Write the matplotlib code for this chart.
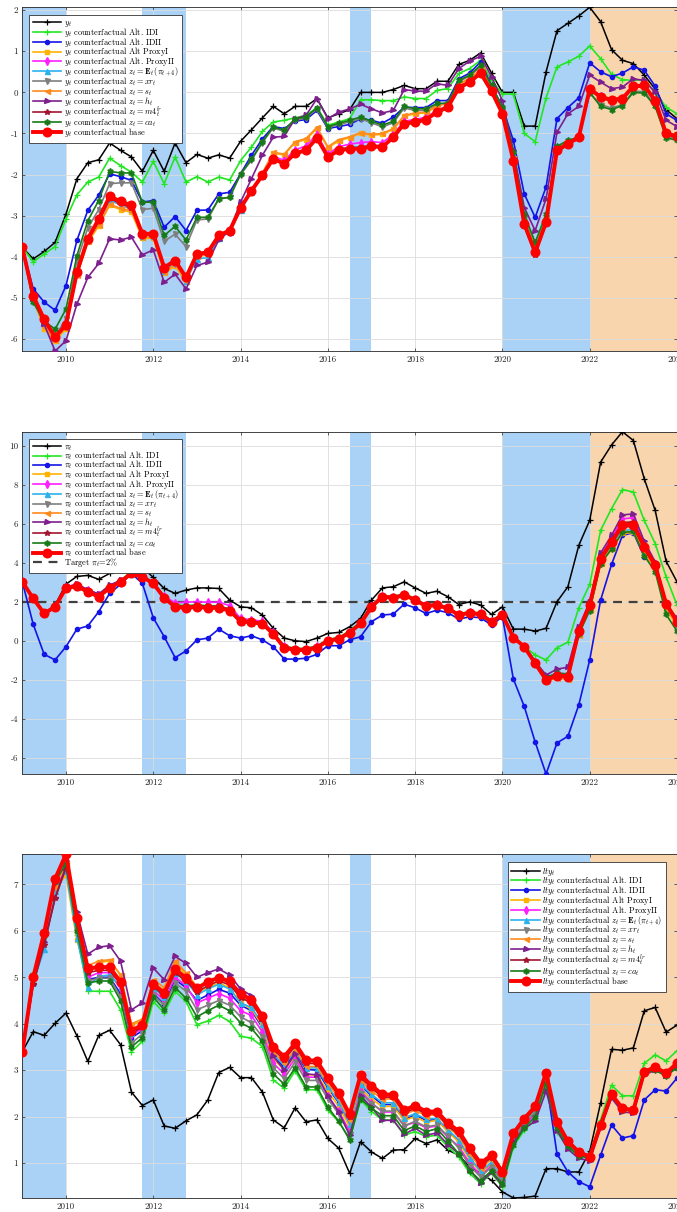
import numpy as np
import matplotlib
matplotlib.use("Agg")
import matplotlib.pyplot as plt

plt.rcParams['font.family'] = ['cmr10', 'DejaVu Serif']
plt.rcParams['mathtext.fontset'] = 'cm'
plt.rcParams['axes.unicode_minus'] = False
plt.rcParams['axes.formatter.use_mathtext'] = False

# quarterly dates 2009Q1 .. 2024Q1
quarters = np.arange(2009.0, 2024.001, 0.25)

# shaded periods
blue_spans = [(2009.0, 2010.0), (2011.75, 2012.75), (2016.5, 2017.0), (2020.0, 2022.0)]
orange_span = (2022.0, 2024.0)
target_rate = 2.0

# ---------------- output gap y_t ----------------
y_actual = [-3.77, -4.05, -3.87, -3.65, -2.96, -2.10, -1.71, -1.64, -1.23, -1.41,
            -1.57, -1.92, -1.41, -1.92, -1.23, -1.71, -1.51, -1.60, -1.52, -1.60,
            -1.19, -0.91, -0.62, -0.34, -0.52, -0.34, -0.34, -0.15, -0.62, -0.52,
            -0.42, 0.00, 0.00, 0.00, 0.07, 0.17, 0.09, 0.09, 0.27, 0.27,
            0.68, 0.78, 0.96, 0.47, 0.00, 0.00, -0.82, -0.82, 0.50, 1.50,
            1.68, 1.86, 2.07, 1.72, 1.04, 0.78, 0.70, 0.42, 0.08, -0.42,
            -0.64]
y_alt_idi = [-3.77, -4.12, -3.93, -3.75, -3.08, -2.49, -2.18, -2.06, -1.60, -1.78,
             -1.94, -2.18, -1.68, -2.22, -1.57, -2.18, -2.05, -2.18, -2.06, -2.13,
             -1.66, -1.33, -0.95, -0.72, -0.68, -0.62, -0.56, -0.37, -0.80, -0.72,
             -0.64, -0.18, -0.18, -0.20, -0.20, -0.11, -0.15, -0.15, 0.05, 0.09,
             0.46, 0.58, 0.78, 0.29, -0.04, -0.04, -1.00, -1.20, -0.13, 0.62,
             0.74, 0.88, 1.13, 0.82, 0.44, 0.31, 0.29, 0.31, 0.00, -0.36,
             -0.52]
y_alt_idii = [-3.77, -4.78, -5.10, -5.30, -4.70, -3.60, -2.87, -2.50, -1.98, -2.05,
              -2.14, -2.67, -2.63, -3.28, -3.02, -3.36, -2.87, -2.86, -2.47, -2.43,
              -1.98, -1.53, -1.13, -0.83, -0.88, -0.70, -0.66, -0.44, -0.88, -0.83,
              -0.78, -0.64, -0.68, -0.75, -0.60, -0.36, -0.37, -0.37, -0.20, -0.20,
              0.33, 0.47, 0.74, 0.17, -0.36, -1.17, -2.47, -3.04, -2.30, -0.64,
              -0.37, -0.13, 0.72, 0.50, 0.38, 0.47, 0.62, 0.54, 0.15, -0.52,
              -0.68]
y_proxy1 = [-3.77, -5.05, -5.75, -6.05, -5.75, -4.45, -3.65, -3.25, -2.75, -2.85,
            -2.92, -3.55, -3.55, -4.40, -4.22, -4.62, -4.00, -3.95, -3.50, -3.38,
            -2.82, -2.38, -1.98, -1.48, -1.52, -1.22, -1.15, -0.88, -1.35, -1.18,
            -1.10, -1.00, -1.04, -1.02, -0.90, -0.58, -0.52, -0.50, -0.34, -0.26,
            0.20, 0.33, 0.55, 0.08, -0.48, -1.60, -3.10, -3.75, -3.05, -1.38,
            -1.22, -1.05, 0.12, -0.12, -0.20, -0.12, 0.15, 0.18, -0.18, -0.98,
            -1.05]
y_proxy2 = [-3.77, -4.98, -5.60, -5.98, -5.68, -4.42, -3.60, -3.15, -2.62, -2.72,
            -2.82, -3.48, -3.48, -4.32, -4.15, -4.55, -3.98, -3.92, -3.50, -3.40,
            -2.84, -2.40, -2.02, -1.56, -1.65, -1.40, -1.30, -1.02, -1.50, -1.32,
            -1.26, -1.22, -1.20, -1.22, -1.02, -0.70, -0.66, -0.60, -0.44, -0.32,
            0.14, 0.28, 0.50, 0.05, -0.50, -1.62, -3.15, -3.82, -3.12, -1.40,
            -1.24, -1.08, 0.10, -0.10, -0.18, -0.14, 0.16, 0.18, -0.19, -0.99,
            -1.06]
y_expect = [-3.77, -4.97, -5.58, -5.94, -5.64, -4.40, -3.58, -3.12, -2.62, -2.74,
            -2.84, -3.50, -3.50, -4.34, -4.16, -4.58, -4.05, -4.02, -3.55, -3.40,
            -2.86, -2.42, -2.04, -1.62, -1.72, -1.46, -1.38, -1.08, -1.55, -1.38,
            -1.33, -1.32, -1.28, -1.30, -1.06, -0.74, -0.70, -0.64, -0.46, -0.34,
            0.12, 0.26, 0.48, 0.04, -0.51, -1.64, -3.18, -3.86, -3.14, -1.40,
            -1.24, -1.08, 0.10, -0.10, -0.17, -0.14, 0.16, 0.18, -0.19, -1.00,
            -1.06]
y_xr = [-3.77, -5.00, -5.60, -5.95, -5.50, -4.10, -3.30, -2.85, -2.22, -2.20,
        -2.20, -2.85, -2.82, -3.62, -3.45, -3.75, -3.10, -3.08, -2.60, -2.55,
        -2.00, -1.65, -1.22, -0.86, -0.95, -0.68, -0.62, -0.40, -0.86, -0.78,
        -0.72, -0.64, -0.74, -0.84, -0.74, -0.38, -0.44, -0.44, -0.30, -0.28,
        0.26, 0.40, 0.62, 0.14, -0.40, -1.50, -3.05, -3.75, -3.05, -1.35,
        -1.20, -1.12, -0.02, -0.30, -0.38, -0.30, 0.03, 0.02, -0.30, -1.08,
        -1.13]
y_s = [-3.77, -5.02, -5.70, -6.02, -5.72, -4.43, -3.62, -3.22, -2.72, -2.82,
       -2.88, -3.52, -3.52, -4.36, -4.18, -4.58, -3.98, -3.92, -3.48, -3.36,
       -2.80, -2.36, -1.96, -1.46, -1.50, -1.20, -1.12, -0.85, -1.32, -1.15,
       -1.08, -0.98, -1.02, -1.00, -0.88, -0.56, -0.50, -0.48, -0.32, -0.25,
       0.21, 0.34, 0.56, 0.09, -0.47, -1.60, -3.12, -3.78, -3.08, -1.38,
       -1.22, -1.05, 0.13, -0.11, -0.19, -0.12, 0.16, 0.18, -0.18, -0.98,
       -1.05]
y_h = [-3.77, -5.03, -5.64, -6.29, -6.04, -5.15, -4.50, -4.16, -3.56, -3.59,
       -3.52, -3.95, -3.83, -4.62, -4.42, -4.78, -4.21, -4.13, -3.59, -3.36,
       -2.67, -2.10, -1.53, -1.09, -1.07, -0.64, -0.56, -0.15, -0.64, -0.48,
       -0.40, -0.29, -0.40, -0.50, -0.44, 0.07, 0.03, 0.03, 0.21, 0.17,
       0.58, 0.76, 0.88, 0.38, -0.20, -1.41, -2.80, -3.36, -2.59, -0.97,
       -0.52, -0.34, 0.42, 0.25, 0.09, 0.13, 0.33, 0.29, 0.00, -0.68,
       -0.83]
y_m4 = [-3.77, -4.97, -5.58, -5.95, -5.65, -4.42, -3.60, -3.12, -2.58, -2.70,
        -2.80, -3.46, -3.46, -4.28, -4.12, -4.52, -3.95, -3.90, -3.50, -3.38,
        -2.83, -2.40, -2.02, -1.62, -1.75, -1.50, -1.42, -1.12, -1.58, -1.43,
        -1.38, -1.38, -1.33, -1.34, -1.10, -0.78, -0.74, -0.68, -0.50, -0.38,
        0.09, 0.23, 0.45, 0.01, -0.54, -1.70, -3.25, -3.95, -3.20, -1.45,
        -1.28, -1.12, 0.06, -0.14, -0.21, -0.18, 0.12, 0.14, -0.23, -1.03,
        -1.10]
y_ca = [-3.77, -5.11, -5.56, -5.76, -5.27, -3.97, -3.12, -2.63, -1.92, -1.96,
        -1.96, -2.67, -2.67, -3.48, -3.26, -3.59, -3.04, -3.04, -2.59, -2.55,
        -1.98, -1.63, -1.20, -0.84, -0.92, -0.64, -0.60, -0.37, -0.83, -0.75,
        -0.68, -0.60, -0.70, -0.80, -0.70, -0.34, -0.40, -0.40, -0.27, -0.26,
        0.29, 0.42, 0.66, 0.17, -0.36, -1.45, -2.96, -3.65, -2.96, -1.31,
        -1.17, -1.09, 0.00, -0.34, -0.42, -0.32, 0.00, -0.02, -0.34, -1.10,
        -1.17]
y_base = [-3.77, -4.95, -5.52, -5.95, -5.65, -4.38, -3.56, -3.08, -2.53, -2.65,
          -2.75, -3.44, -3.44, -4.26, -4.09, -4.50, -3.93, -3.89, -3.48, -3.36,
          -2.81, -2.39, -2.02, -1.61, -1.74, -1.48, -1.41, -1.11, -1.57, -1.41,
          -1.37, -1.37, -1.31, -1.33, -1.09, -0.76, -0.72, -0.66, -0.48, -0.36,
          0.11, 0.25, 0.47, 0.03, -0.52, -1.66, -3.20, -3.89, -3.16, -1.41,
          -1.25, -1.09, 0.09, -0.11, -0.18, -0.15, 0.15, 0.17, -0.20, -1.00,
          -1.07]

# ---------------- inflation pi_t ----------------
p_actual = [3.02, 2.17, 1.40, 1.83, 2.90, 3.30, 3.35, 3.15, 3.45, 3.75,
            4.05, 3.75, 3.25, 2.68, 2.43, 2.60, 2.71, 2.71, 2.68, 2.09,
            1.74, 1.69, 1.32, 0.64, 0.14, 0.00, -0.04, 0.14, 0.38, 0.43,
            0.72, 1.15, 2.09, 2.71, 2.77, 3.02, 2.71, 2.43, 2.54, 2.26,
            1.86, 2.00, 1.83, 1.35, 1.74, 0.60, 0.60, 0.50, 0.64, 2.00,
            2.77, 4.89, 6.17, 9.15, 10.03, 10.71, 10.26, 8.30, 6.68, 4.08,
            3.02]
p_alt_idi = [3.02, 2.20, 1.45, 1.80, 2.75, 2.85, 2.60, 2.35, 2.80, 3.10,
             3.55, 3.35, 3.00, 2.30, 1.85, 1.80, 1.85, 1.80, 1.80, 1.62,
             1.08, 1.02, 0.95, 0.45, -0.25, -0.38, -0.38, -0.25, 0.08, 0.18,
             0.52, 0.98, 1.82, 2.32, 2.28, 2.42, 2.16, 1.85, 1.90, 1.72,
             1.38, 1.50, 1.42, 1.05, 1.38, 0.17, -0.29, -0.72, -0.98, -0.35,
             -0.07, 1.69, 2.89, 5.66, 6.77, 7.75, 7.62, 6.17, 4.98, 3.28,
             1.83]
p_alt_idii = [3.02, 0.84, -0.69, -0.98, -0.30, 0.60, 0.76, 1.49, 2.43, 2.89,
              3.45, 2.94, 1.18, 0.21, -0.86, -0.52, 0.05, 0.14, 0.60, 0.26,
              0.14, 0.26, 0.05, -0.30, -0.93, -0.94, -0.89, -0.69, -0.25, -0.25,
              0.05, 0.21, 0.98, 1.32, 1.37, 1.88, 1.69, 1.40, 1.57, 1.44,
              1.11, 1.23, 1.18, 0.81, 1.23, -1.95, -3.36, -5.18, -6.82, -5.23,
              -4.89, -3.28, -0.98, 2.09, 3.91, 5.40, 5.54, 4.30, 3.87, 1.74,
              0.89]
p_proxy1 = [3.02, 2.15, 1.38, 1.72, 2.68, 2.76, 2.48, 2.22, 2.66, 2.98,
            3.42, 3.25, 2.90, 2.16, 1.70, 1.66, 1.70, 1.66, 1.66, 1.52,
            0.96, 0.91, 0.84, 0.32, -0.38, -0.50, -0.50, -0.38, -0.03, 0.07,
            0.40, 0.86, 1.70, 2.22, 2.16, 2.30, 2.05, 1.75, 1.80, 1.63,
            1.30, 1.42, 1.33, 0.96, 1.30, 0.15, -0.32, -1.20, -2.05, -1.85,
            -1.95, 0.30, 1.60, 3.95, 4.70, 5.50, 5.55, 4.50, 3.65, 1.65,
            0.75]
p_proxy2 = [3.02, 2.18, 1.42, 1.76, 2.78, 2.88, 2.62, 2.35, 2.78, 3.08,
            3.48, 3.30, 2.98, 2.28, 1.95, 1.98, 2.00, 1.98, 1.98, 1.80,
            1.15, 1.08, 1.00, 0.45, -0.28, -0.40, -0.40, -0.28, 0.05, 0.15,
            0.46, 0.92, 1.80, 2.30, 2.25, 2.40, 2.14, 1.84, 1.88, 1.70,
            1.36, 1.48, 1.40, 1.02, 1.35, 0.20, -0.28, -1.10, -1.90, -1.65,
            -1.70, 0.60, 1.90, 4.35, 5.25, 6.25, 6.30, 4.95, 3.95, 1.85,
            1.05]
p_expect = [3.02, 2.16, 1.39, 1.73, 2.70, 2.78, 2.50, 2.25, 2.69, 3.00,
            3.44, 3.27, 2.92, 2.18, 1.72, 1.68, 1.72, 1.68, 1.68, 1.54,
            0.98, 0.93, 0.86, 0.33, -0.37, -0.49, -0.49, -0.37, -0.02, 0.08,
            0.41, 0.88, 1.72, 2.24, 2.18, 2.32, 2.07, 1.76, 1.81, 1.64,
            1.31, 1.43, 1.34, 0.97, 1.31, 0.16, -0.31, -1.18, -2.02, -1.82,
            -1.90, 0.35, 1.70, 4.05, 4.85, 5.65, 5.70, 4.60, 3.75, 1.75,
            0.85]
p_xr = [3.02, 2.17, 1.40, 1.75, 2.72, 2.80, 2.52, 2.28, 2.72, 3.02,
        3.46, 3.28, 2.94, 2.22, 1.78, 1.74, 1.78, 1.74, 1.74, 1.58,
        1.02, 0.97, 0.90, 0.37, -0.33, -0.45, -0.45, -0.33, 0.02, 0.12,
        0.44, 0.90, 1.75, 2.28, 2.22, 2.36, 2.10, 1.80, 1.84, 1.67,
        1.33, 1.45, 1.36, 0.99, 1.33, 0.18, -0.30, -1.12, -1.95, -1.72,
        -1.78, 0.45, 1.75, 4.15, 4.95, 5.80, 5.85, 4.70, 3.80, 1.80,
        0.90]
p_s = [3.02, 2.16, 1.39, 1.73, 2.69, 2.77, 2.49, 2.24, 2.68, 2.99,
       3.43, 3.26, 2.91, 2.17, 1.71, 1.67, 1.71, 1.67, 1.67, 1.53,
       0.97, 0.92, 0.85, 0.32, -0.38, -0.50, -0.50, -0.38, -0.03, 0.07,
       0.40, 0.87, 1.71, 2.23, 2.17, 2.31, 2.06, 1.76, 1.81, 1.64,
       1.31, 1.43, 1.34, 0.97, 1.31, 0.16, -0.32, -1.22, -2.08, -1.90,
       -1.98, 0.32, 1.62, 4.00, 4.75, 5.55, 5.60, 4.55, 3.70, 1.70,
       0.80]
p_h = [3.02, 2.15, 1.42, 1.78, 2.75, 2.90, 2.62, 2.40, 2.85, 3.10,
       3.50, 3.30, 2.98, 2.25, 1.80, 1.78, 1.82, 1.78, 1.78, 1.62,
       1.05, 1.00, 0.92, 0.40, -0.30, -0.42, -0.42, -0.30, 0.04, 0.14,
       0.46, 0.92, 1.78, 2.28, 2.24, 2.38, 2.12, 1.82, 1.86, 1.68,
       1.35, 1.46, 1.38, 1.00, 1.36, 0.20, -0.25, -1.05, -1.75, -1.45,
       -1.35, 0.70, 2.00, 4.50, 5.40, 6.45, 6.50, 5.10, 4.05, 1.90,
       1.15]
p_m4 = [3.02, 2.17, 1.40, 1.75, 2.72, 2.82, 2.54, 2.28, 2.73, 3.03,
        3.46, 3.29, 2.95, 2.22, 1.76, 1.71, 1.76, 1.71, 1.71, 1.57,
        1.01, 0.96, 0.89, 0.36, -0.34, -0.46, -0.46, -0.34, 0.01, 0.11,
        0.43, 0.90, 1.76, 2.28, 2.22, 2.36, 2.11, 1.80, 1.85, 1.68,
        1.34, 1.46, 1.37, 1.00, 1.34, 0.19, -0.28, -1.12, -1.95, -1.72,
        -1.78, 0.55, 1.90, 4.30, 5.15, 6.05, 6.10, 4.90, 3.95, 1.95,
        1.02]
p_ca = [3.02, 2.17, 1.40, 1.76, 2.72, 2.82, 2.54, 2.30, 2.74, 3.04,
        3.48, 3.30, 2.96, 2.24, 1.80, 1.76, 1.80, 1.76, 1.76, 1.60,
        1.04, 0.99, 0.92, 0.39, -0.30, -0.42, -0.42, -0.30, 0.05, 0.14,
        0.46, 0.92, 1.78, 2.30, 2.24, 2.38, 2.12, 1.82, 1.86, 1.69,
        1.35, 1.47, 1.38, 1.01, 1.35, 0.20, -0.26, -1.08, -1.88, -1.65,
        -1.70, 0.35, 1.55, 3.95, 4.70, 5.55, 5.60, 4.35, 3.55, 1.35,
        0.50]
p_base = [3.02, 2.17, 1.40, 1.74, 2.71, 2.80, 2.51, 2.26, 2.71, 3.02,
          3.45, 3.28, 2.94, 2.20, 1.74, 1.69, 1.74, 1.69, 1.69, 1.55,
          1.00, 0.95, 0.88, 0.35, -0.35, -0.47, -0.47, -0.35, 0.00, 0.10,
          0.42, 0.89, 1.74, 2.26, 2.20, 2.34, 2.09, 1.78, 1.83, 1.66,
          1.32, 1.44, 1.35, 0.98, 1.32, 0.17, -0.30, -1.15, -2.00, -1.78,
          -1.83, 0.50, 1.85, 4.20, 5.06, 5.91, 5.95, 4.81, 3.87, 1.91,
          0.98]

# ---------------- long-term yield lty_t ----------------
l_actual = [3.40, 3.83, 3.75, 4.01, 4.23, 3.74, 3.19, 3.75, 3.86, 3.55,
            2.53, 2.24, 2.36, 1.80, 1.75, 1.91, 2.04, 2.36, 2.95, 3.06,
            2.84, 2.84, 2.53, 1.93, 1.76, 2.19, 1.89, 1.93, 1.53, 1.32,
            0.78, 1.46, 1.24, 1.10, 1.28, 1.29, 1.53, 1.42, 1.50, 1.28,
            1.17, 0.92, 0.78, 0.63, 0.38, 0.25, 0.26, 0.29, 0.88, 0.88,
            0.81, 0.81, 1.25, 2.30, 3.45, 3.43, 3.48, 4.28, 4.35, 3.82,
            3.97]
l_alt_idi = [3.40, 5.09, 5.94, 7.04, 7.43, 5.92, 4.70, 4.70, 4.70, 4.30,
             3.40, 3.62, 4.48, 4.23, 4.70, 4.48, 3.98, 4.06, 4.18, 4.05,
             3.73, 3.69, 3.51, 2.79, 2.61, 2.99, 2.58, 2.58, 2.14, 1.89,
             1.53, 2.36, 2.11, 1.93, 1.93, 1.60, 1.68, 1.57, 1.60, 1.35,
             1.14, 0.78, 0.56, 0.78, 0.49, 1.35, 1.71, 1.93, 2.68, 1.68,
             1.32, 1.14, 1.17, 1.93, 2.68, 2.45, 2.45, 3.15, 3.33, 3.20,
             3.42]
l_alt_idii = [3.40, 4.98, 5.90, 7.00, 7.50, 6.10, 4.95, 5.00, 5.00, 4.65,
              3.70, 3.85, 4.65, 4.42, 4.95, 4.78, 4.50, 4.62, 4.74, 4.66,
              4.40, 4.28, 3.92, 3.30, 3.06, 3.38, 3.02, 3.00, 2.62, 2.30,
              1.85, 2.68, 2.45, 2.26, 2.26, 1.94, 2.04, 1.92, 1.94, 1.68,
              1.48, 1.10, 0.82, 0.98, 0.62, 1.48, 1.82, 2.08, 2.79, 1.20,
              0.81, 0.60, 0.49, 1.17, 1.82, 1.54, 1.59, 2.36, 2.58, 2.55,
              2.83]
l_proxy1 = [3.40, 4.95, 5.85, 6.90, 7.20, 5.80, 5.05, 5.32, 5.35, 5.05,
            3.98, 4.05, 4.88, 4.72, 5.30, 5.05, 4.68, 4.78, 4.88, 4.78,
            4.45, 4.32, 3.95, 3.25, 3.00, 3.30, 2.90, 2.90, 2.55, 2.22,
            1.78, 2.60, 2.38, 2.22, 2.22, 1.92, 2.00, 1.88, 1.92, 1.68,
            1.45, 1.08, 0.80, 1.00, 0.68, 1.55, 1.88, 2.12, 2.85, 1.82,
            1.40, 1.18, 1.08, 1.82, 2.50, 2.18, 2.15, 3.00, 3.08, 2.95,
            3.15]
l_proxy2 = [3.40, 4.98, 5.88, 6.95, 7.30, 6.05, 5.00, 5.10, 5.10, 4.75,
            3.75, 3.90, 4.72, 4.50, 5.00, 4.82, 4.45, 4.55, 4.65, 4.55,
            4.28, 4.18, 3.82, 3.15, 2.92, 3.25, 2.85, 2.85, 2.45, 2.12,
            1.68, 2.55, 2.30, 2.10, 2.10, 1.80, 1.88, 1.76, 1.80, 1.56,
            1.36, 1.00, 0.74, 0.94, 0.62, 1.50, 1.82, 2.06, 2.78, 1.80,
            1.38, 1.18, 1.10, 1.82, 2.48, 2.16, 2.14, 2.98, 3.05, 2.92,
            3.12]
l_expect = [3.40, 4.90, 5.60, 6.85, 7.30, 5.85, 4.80, 5.02, 5.05, 4.80,
            3.80, 3.95, 4.78, 4.58, 5.10, 4.92, 4.62, 4.75, 4.85, 4.75,
            4.45, 4.35, 4.00, 3.35, 3.10, 3.42, 3.05, 3.05, 2.65, 2.32,
            1.85, 2.70, 2.48, 2.30, 2.30, 1.98, 2.06, 1.95, 1.96, 1.72,
            1.50, 1.12, 0.82, 1.02, 0.70, 1.58, 1.90, 2.15, 2.88, 1.85,
            1.42, 1.20, 1.10, 1.80, 2.48, 2.16, 2.12, 2.96, 3.04, 2.92,
            3.12]
l_xr = [3.40, 5.02, 5.92, 7.05, 7.48, 6.05, 4.92, 4.98, 4.98, 4.58,
        3.58, 3.78, 4.62, 4.40, 4.88, 4.70, 4.30, 4.40, 4.50, 4.40,
        4.15, 4.02, 3.72, 3.05, 2.82, 3.18, 2.78, 2.78, 2.38, 2.06,
        1.62, 2.52, 2.28, 2.12, 2.12, 1.80, 1.90, 1.78, 1.82, 1.58,
        1.32, 0.94, 0.70, 0.92, 0.60, 1.48, 1.85, 2.10, 2.82, 1.80,
        1.40, 1.18, 1.10, 1.82, 2.48, 2.16, 2.14, 2.98, 3.05, 2.92,
        3.10]
l_s = [3.40, 5.00, 5.95, 6.95, 7.45, 6.10, 5.25, 5.35, 5.38, 5.05,
       4.00, 4.10, 4.95, 4.78, 5.35, 5.10, 4.80, 4.92, 5.00, 4.90,
       4.58, 4.45, 4.08, 3.40, 3.15, 3.45, 3.08, 3.08, 2.72, 2.40,
       1.92, 2.78, 2.55, 2.38, 2.38, 2.05, 2.14, 2.02, 2.04, 1.78,
       1.58, 1.20, 0.90, 1.08, 0.74, 1.60, 1.92, 2.18, 2.90, 1.86,
       1.45, 1.22, 1.12, 1.82, 2.50, 2.18, 2.16, 2.98, 3.08, 2.95,
       3.16]
l_h = [3.40, 4.85, 5.75, 6.70, 7.35, 6.40, 5.50, 5.65, 5.68, 5.35,
       4.30, 4.45, 5.20, 4.95, 5.45, 5.30, 5.00, 5.10, 5.18, 5.05,
       4.75, 4.60, 4.10, 3.30, 3.00, 3.35, 2.92, 2.90, 2.45, 2.10,
       1.60, 2.45, 2.20, 1.92, 1.92, 1.62, 1.75, 1.60, 1.65, 1.40,
       1.20, 0.85, 0.58, 0.80, 0.52, 1.45, 1.75, 1.90, 2.55, 1.70,
       1.30, 1.10, 1.05, 1.75, 2.40, 2.10, 2.08, 2.90, 3.00, 2.88,
       3.08]
l_m4 = [3.40, 4.85, 5.70, 6.70, 7.40, 6.20, 5.10, 5.15, 5.15, 4.85,
        3.80, 3.92, 4.80, 4.60, 5.10, 4.92, 4.68, 4.82, 4.92, 4.84,
        4.56, 4.45, 4.10, 3.45, 3.22, 3.52, 3.15, 3.14, 2.78, 2.45,
        2.00, 2.84, 2.62, 2.42, 2.42, 2.08, 2.18, 2.06, 2.06, 1.80,
        1.62, 1.26, 0.94, 1.12, 0.76, 1.60, 1.92, 2.18, 2.92, 1.86,
        1.44, 1.22, 1.12, 1.80, 2.46, 2.16, 2.12, 2.95, 3.03, 2.92,
        3.12]
l_ca = [3.40, 5.05, 5.92, 7.05, 7.45, 6.00, 4.88, 4.92, 4.92, 4.50,
        3.50, 3.70, 4.58, 4.30, 4.78, 4.55, 4.15, 4.28, 4.40, 4.28,
        4.02, 3.90, 3.62, 2.92, 2.70, 3.05, 2.64, 2.64, 2.20, 1.90,
        1.50, 2.38, 2.18, 2.02, 2.02, 1.70, 1.80, 1.68, 1.74, 1.48,
        1.20, 0.84, 0.62, 0.84, 0.55, 1.38, 1.76, 2.00, 2.72, 1.75,
        1.36, 1.16, 1.10, 1.80, 2.45, 2.15, 2.12, 2.95, 3.00, 2.88,
        3.05]
l_base = [3.40, 5.00, 5.96, 7.12, 7.65, 6.28, 5.19, 5.22, 5.22, 4.90,
          3.85, 3.98, 4.86, 4.66, 5.17, 4.99, 4.76, 4.90, 4.99, 4.91,
          4.64, 4.52, 4.16, 3.51, 3.29, 3.58, 3.22, 3.20, 2.83, 2.50,
          2.05, 2.90, 2.67, 2.48, 2.47, 2.14, 2.24, 2.11, 2.11, 1.86,
          1.69, 1.32, 1.00, 1.17, 0.81, 1.64, 1.96, 2.22, 2.95, 1.89,
          1.47, 1.24, 1.14, 1.82, 2.48, 2.18, 2.14, 2.97, 3.06, 2.94,
          3.15]

# legend text following the variable symbol
label_tails = ["",
               " counterfactual Alt. IDI",
               " counterfactual Alt. IDII",
               " counterfactual Alt ProxyI",
               " counterfactual Alt. ProxyII",
               r" counterfactual $z_t = \mathbf{E}_t\,(\pi_{t+4})$",
               r" counterfactual $z_t = xr_t$",
               r" counterfactual $z_t = s_t$",
               r" counterfactual $z_t = h_t$",
               r" counterfactual $z_t = m4_t^{lr}$",
               r" counterfactual $z_t = ca_t$",
               " counterfactual base"]

series_styles = [
    dict(color='k', marker='+', ms=3.8, lw=1.1, mew=0.9),
    dict(color='#22E622', marker='+', ms=3.8, lw=1.2, mew=0.9),
    dict(color='#1414E6', marker='o', ms=3.0, lw=1.2),
    dict(color='#FFB300', marker='s', ms=3.2, lw=1.2),
    dict(color='#FF1EFF', marker='d', ms=3.6, lw=1.2),
    dict(color='#2AB2EE', marker='^', ms=3.6, lw=1.2),
    dict(color='#7F7F7F', marker='v', ms=3.6, lw=1.2),
    dict(color='#FF8A1E', marker='<', ms=3.6, lw=1.2),
    dict(color='#7E1F8E', marker='>', ms=3.6, lw=1.2),
    dict(color='#A2142F', marker='*', ms=4.4, lw=1.2),
    dict(color='#177A17', marker=(6, 1, 0), ms=4.4, lw=1.2),
    dict(color='#FF0000', marker='o', ms=6.2, lw=2.8),
]

blue_fill = '#AAD2F6'
orange_fill = '#F9D5AE'


def draw_panel(ax, symbol, series, yticks, legend_loc, legend_anchor, target=None):
    for a, b in blue_spans:
        ax.axvspan(a, b, color=blue_fill, lw=0, zorder=0)
    ax.axvspan(orange_span[0], orange_span[1], color=orange_fill, lw=0, zorder=0)
    handles = []
    for vals, tail, st in zip(series, label_tails, series_styles):
        h, = ax.plot(quarters, vals, label=symbol + tail, zorder=3, **st)
        handles.append(h)
    if target is not None:
        h = ax.axhline(target, color='#404040', ls='--', lw=1.6, dashes=(4, 3), zorder=2.5,
                       label=r"Target $\pi_t$=2%")
        handles.append(h)
    allv = np.concatenate([np.asarray(v) for v in series])
    ax.set_xlim(quarters[0], quarters[-1])
    ax.set_ylim(allv.min(), allv.max())
    ax.set_xticks(np.arange(2010, 2025, 2))
    ax.set_yticks(yticks)
    ax.grid(True, color='#DCDCDC', lw=0.6)
    ax.set_axisbelow('line')
    for sp in ax.spines.values():
        sp.set_color('#262626')
        sp.set_linewidth(0.6)
    ax.tick_params(direction='in', length=2.5, width=0.5, labelsize=6.5,
                   colors='#262626', top=True, right=True, pad=3)
    leg = ax.legend(handles=handles, loc=legend_loc, bbox_to_anchor=legend_anchor,
                    borderaxespad=0, fontsize=6.0, handlelength=3.4,
                    handletextpad=0.3, labelspacing=-0.38, borderpad=0.45,
                    fancybox=False, framealpha=1, edgecolor='#333333')
    leg.get_frame().set_linewidth(0.6)
    leg.set_zorder(10)


fig = plt.figure(figsize=(6.77, 12.12), dpi=100)
left, width = 0.033, 0.967
ax1 = fig.add_axes([left, 0.7104, width, 0.2836])
ax2 = fig.add_axes([left, 0.3614, width, 0.2824])
ax3 = fig.add_axes([left, 0.0116, width, 0.2836])

draw_panel(ax1, r"$y_t$",
           [y_actual, y_alt_idi, y_alt_idii, y_proxy1, y_proxy2, y_expect,
            y_xr, y_s, y_h, y_m4, y_ca, y_base],
           np.arange(-6, 3, 1), 'upper left', (0.0102, 0.978))
draw_panel(ax2, r"$\pi_t$",
           [p_actual, p_alt_idi, p_alt_idii, p_proxy1, p_proxy2, p_expect,
            p_xr, p_s, p_h, p_m4, p_ca, p_base],
           np.arange(-6, 11, 2), 'upper left', (0.0102, 0.978), target=target_rate)
draw_panel(ax3, r"$lty_t$",
           [l_actual, l_alt_idi, l_alt_idii, l_proxy1, l_proxy2, l_expect,
            l_xr, l_s, l_h, l_m4, l_ca, l_base],
           np.arange(1, 8, 1), 'upper right', (0.983, 0.978))

fig.savefig('out.png', dpi=100)
